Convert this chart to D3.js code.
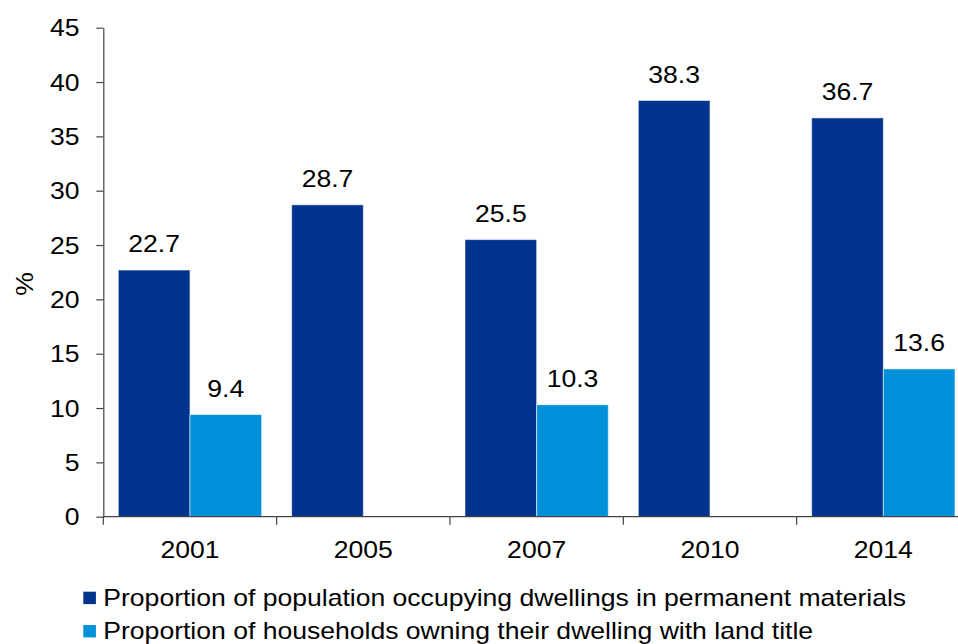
<!DOCTYPE html>
<html>
<head>
<meta charset="utf-8">
<script src="https://cdn.jsdelivr.net/npm/d3@7"></script>
<style>
  html, body { margin: 0; padding: 0; background: #fff; }
  svg { display: block; font-family: "Liberation Sans", Arial, sans-serif; }
</style>
</head>
<body>
<svg id="chart" width="958" height="644"></svg>
<script>
const years = ["2001", "2005", "2007", "2010", "2014"];
const dwellings = [22.7, 28.7, 25.5, 38.3, 36.7];
const landTitle = [9.4, null, 10.3, null, 13.6];
const yTicks = [0, 5, 10, 15, 20, 25, 30, 35, 40, 45];
const seriesNames = [
  "Proportion of population occupying dwellings in permanent materials",
  "Proportion of households owning their dwelling with land title"
];
const colors = ["#00338D", "#0091DA"];

(function () {
const svg = d3.select("#chart");
const pLeft = 103.3, pRight = 970, pTop = 27.7, pBottom = 516.7;
const SX = 1.107;

function txt(x, yy, str, anchor, size, rot) {
  return svg.append("text")
    .attr("transform", `translate(${x},${yy})` + (rot ? ` rotate(${rot})` : "") + ` scale(${SX},1)`)
    .attr("text-anchor", anchor)
    .attr("font-size", size)
    .attr("fill", "#000")
    .text(str);
}

const x = d3.scaleBand().domain(years).range([pLeft, pRight]).padding(0);
const xs = d3.scaleBand().domain([0, 1]).range([15, x.bandwidth() - 15]).padding(0);
const y = d3.scaleLinear().domain([0, 45]).range([pBottom, pTop]);

// bars
const series = [dwellings, landTitle];
series.forEach((vals, si) => {
  years.forEach((yr, i) => {
    const v = vals[i];
    if (v == null) return;
    svg.append("rect")
      .attr("x", x(yr) + xs(si))
      .attr("y", y(v))
      .attr("width", xs.bandwidth())
      .attr("height", y(0) - y(v))
      .attr("fill", colors[si])
      .attr("stroke", "rgba(255,255,255,0.55)")
      .attr("stroke-width", 1);
    txt(x(yr) + xs(si) + xs.bandwidth() / 2, y(v) - 18, v.toFixed(1), "middle", 24);
  });
});

// y axis (lines via d3 axis, labels drawn from the same scale)
const yAxis = d3.axisLeft(y).tickValues(yTicks).tickSize(7).tickSizeOuter(0).tickFormat("");
const ya = svg.append("g").attr("transform", `translate(${pLeft},0)`).call(yAxis);
ya.selectAll("path, line").attr("stroke", "#444").attr("stroke-width", 1.2);
yTicks.forEach(t => txt(79.5, y(t) + 8.5, String(t), "end", 24));

// x axis line and boundary ticks
svg.append("line")
  .attr("x1", pLeft).attr("x2", 958)
  .attr("y1", y(0)).attr("y2", y(0))
  .attr("stroke", "#444").attr("stroke-width", 1.2);
years.forEach(yr => {
  svg.append("line")
    .attr("x1", x(yr)).attr("x2", x(yr))
    .attr("y1", y(0)).attr("y2", y(0) + 8)
    .attr("stroke", "#444").attr("stroke-width", 1.2);
  txt(x(yr) + x.bandwidth() / 2, 558.3, yr, "middle", 24);
});

// y title
txt(33, 284, "%", "middle", 24, -90);

// legend
seriesNames.forEach((name, i) => {
  const by = 605.7 + i * 33.3;
  svg.append("rect")
    .attr("x", 83.3).attr("y", by - 14)
    .attr("width", 12.6).attr("height", 12.4)
    .attr("fill", colors[i]);
  txt(103.3, by, name, "start", 24);
});
})();
</script>
</body>
</html>
